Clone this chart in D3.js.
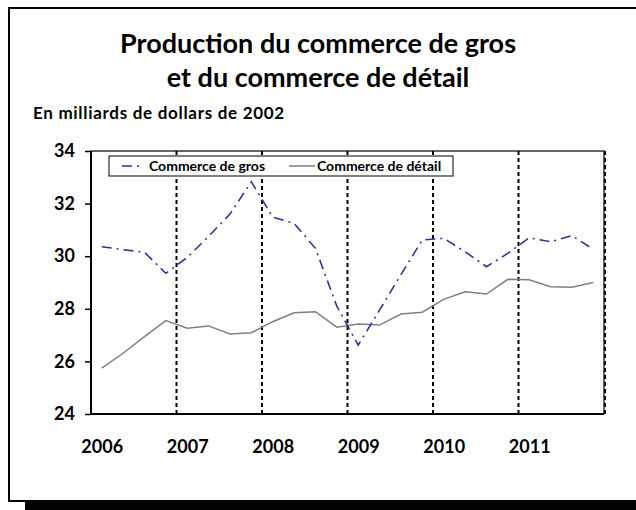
<!DOCTYPE html>
<html>
<head>
<meta charset="utf-8">
<script src="https://cdn.jsdelivr.net/npm/d3@7/dist/d3.min.js"></script>
<style>
  body { margin: 0; background: #fff; }
  svg text { font-family: Lato, "Open Sans", sans-serif; font-weight: bold; fill: #000; }
</style>
</head>
<body>
<div id="chart"></div>
<script>
// data: quarterly output, billions of 2002 dollars
const years = ['2006', '2007', '2008', '2009', '2010', '2011'];
const quarters = years.flatMap(y => ['T1', 'T2', 'T3', 'T4'].map(q => y + q));
const gros = [30.36, 30.25, 30.15, 29.35, 29.95, 30.75, 31.6, 32.83,
  31.49, 31.25, 30.3, 28.1, 26.62, 27.95, 29.3, 30.62,
  30.68, 30.17, 29.6, 30.11, 30.7, 30.55, 30.78, 30.26];
const detail = [25.74, 26.31, 26.94, 27.55, 27.26, 27.35, 27.04, 27.09,
  27.51, 27.85, 27.89, 27.3, 27.42, 27.38, 27.8, 27.87,
  28.36, 28.65, 28.56, 29.12, 29.1, 28.84, 28.82, 29.0];
const yTicks = [24, 26, 28, 30, 32, 34];
const seriesNames = ['Commerce de gros', 'Commerce de détail'];

const W = 636, H = 510;
const plot = { left: 91, right: 604, top: 151, bottom: 414 };

const svg = d3.select('#chart').append('svg')
  .attr('width', W)
  .attr('height', H);

// frame with drop shadow
svg.append('rect')
  .attr('x', 25).attr('y', 502)
  .attr('width', W - 25).attr('height', 8)
  .attr('fill', '#000');
svg.append('rect')
  .attr('x', 9).attr('y', 8)
  .attr('width', 640).attr('height', 493)
  .attr('fill', '#fff')
  .attr('stroke', '#000')
  .attr('stroke-width', 2);

// titles
svg.append('text')
  .attr('x', 318).attr('y', 53)
  .attr('text-anchor', 'middle')
  .style('font-size', '27px')
  .text('Production du commerce de gros');
svg.append('text')
  .attr('x', 318).attr('y', 87)
  .attr('text-anchor', 'middle')
  .style('font-size', '27px')
  .text('et du commerce de détail');
svg.append('text')
  .attr('x', 33).attr('y', 119)
  .style('font-size', '17px')
  .style('letter-spacing', '0.7px')
  .text('En milliards de dollars de 2002');

const x = d3.scaleBand()
  .domain(quarters)
  .range([plot.left, plot.right]);
const cx = q => x(q) + x.bandwidth() / 2;

const y = d3.scaleLinear()
  .domain([24, 34])
  .range([plot.bottom, plot.top]);

// plot frame (top + right)
svg.append('path')
  .attr('d', `M${plot.left},${plot.top}H${plot.right}V${plot.bottom}`)
  .attr('fill', 'none')
  .attr('stroke', '#333')
  .attr('stroke-width', 1.5);

// year separators
svg.append('g')
  .selectAll('line')
  .data(years.slice(1).concat(['2012']))
  .join('line')
  .attr('x1', d => d === '2012' ? plot.right + 1 : x(d + 'T1'))
  .attr('x2', d => d === '2012' ? plot.right + 1 : x(d + 'T1'))
  .attr('y1', plot.top)
  .attr('y2', plot.bottom)
  .attr('stroke', '#000')
  .attr('stroke-width', 2)
  .attr('stroke-dasharray', '4,3');

// axes
const yAxis = svg.append('g')
  .attr('transform', `translate(${plot.left},0)`)
  .call(d3.axisLeft(y).tickValues(yTicks).tickSize(6).tickPadding(10));
yAxis.select('.domain').remove();
yAxis.selectAll('.tick line').attr('stroke', '#000').attr('stroke-width', 1.5);
yAxis.selectAll('text').style('font-size', '18px');

const xAxis = svg.append('g')
  .attr('transform', `translate(0,${plot.bottom})`)
  .call(d3.axisBottom(d3.scalePoint().domain(years).range([cx('2006T1'), cx('2011T1')]))
    .tickSize(0).tickPadding(26));
xAxis.select('.domain').remove();
xAxis.selectAll('text').style('font-size', '18px');

svg.append('path')
  .attr('d', `M${plot.left},${plot.top}V${plot.bottom}H${plot.right}`)
  .attr('fill', 'none')
  .attr('stroke', '#000')
  .attr('stroke-width', 2);

// series
const line = d3.line()
  .x((d, i) => cx(quarters[i]))
  .y(d => y(d));

svg.append('path')
  .datum(detail)
  .attr('d', line)
  .attr('fill', 'none')
  .attr('stroke', '#808080')
  .attr('stroke-width', 1.5);

svg.append('path')
  .datum(gros)
  .attr('d', line)
  .attr('fill', 'none')
  .attr('stroke', '#333399')
  .attr('stroke-width', 1.6)
  .attr('stroke-dasharray', '10,5,2,5');

// legend
const lg = svg.append('g');
lg.append('rect')
  .attr('x', 109).attr('y', 156)
  .attr('width', 344).attr('height', 20)
  .attr('fill', '#fff')
  .attr('stroke', '#000')
  .attr('stroke-width', 1);
lg.append('line')
  .attr('x1', 122).attr('x2', 143).attr('y1', 166).attr('y2', 166)
  .attr('stroke', '#333399').attr('stroke-width', 1.6)
  .attr('stroke-dasharray', '10,5,2,5');
lg.append('text')
  .attr('x', 149).attr('y', 171)
  .style('font-size', '14px')
  .text(seriesNames[0]);
lg.append('line')
  .attr('x1', 289).attr('x2', 315).attr('y1', 166).attr('y2', 166)
  .attr('stroke', '#808080').attr('stroke-width', 1.5);
lg.append('text')
  .attr('x', 317).attr('y', 171)
  .style('font-size', '14px')
  .text(seriesNames[1]);
</script>
</body>
</html>
